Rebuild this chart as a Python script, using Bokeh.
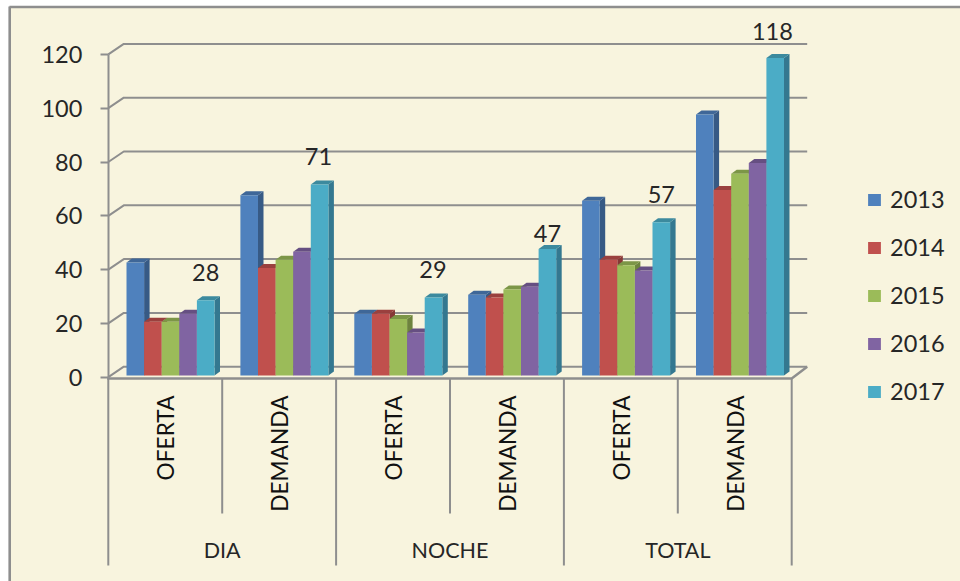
import math
from bokeh.plotting import figure
from bokeh.models import Range1d, LinearAxis, FixedTicker, Legend, LegendItem
from bokeh.core.properties import value
from bokeh.embed import file_html
from bokeh.resources import INLINE

years = ["2013", "2014", "2015", "2016", "2017"]
groups = ["DIA", "NOCHE", "TOTAL"]
subgroups = ["OFERTA", "DEMANDA", "OFERTA", "DEMANDA", "OFERTA", "DEMANDA"]
v2013 = [42, 67, 23, 30, 65, 97]
v2014 = [20, 40, 23, 29, 43, 69]
v2015 = [20, 43, 21, 32, 41, 75]
v2016 = [23, 46, 16, 33, 39, 79]
v2017 = [28, 71, 29, 47, 57, 118]
series = [v2013, v2014, v2015, v2016, v2017]
y_ticks = [0, 20, 40, 60, 80, 100, 120]

front = ["#4F81BD", "#C0504D", "#9BBB59", "#8064A2", "#4BACC6"]
side = ["#375A85", "#873836", "#6D833E", "#5A4671", "#347890"]
topc = ["#3F6798", "#9A403E", "#7C9647", "#664F82", "#3C8A9E"]
BG = "#F8F4DE"
GRID = "#8E8E8E"
INK = "#262626"
FONT = "Lato"

# layout: scale of the drawing, in pixels of the picture
W, H = 960, 581
LEFT, TOP = 0, 0
X0, Y0 = 107.8, 376.7
PX_CAT, PX_UNIT = 113.9, 2.69
WALL_DX, WALL_DY = 15.5 / PX_CAT, 10.5 / PX_UNIT
BAR_DX, BAR_DY = 5.5 / PX_CAT, 4.0 / PX_UNIT
BAR_W = 17.6 / PX_CAT
BASE = 1.7 / PX_UNIT


def dx(px):
    return (px - X0) / PX_CAT


def dy(px):
    return (Y0 - px) / PX_UNIT


p = figure(
    width=W, height=H, output_backend="svg", toolbar_location=None,
    x_range=Range1d(dx(LEFT), dx(LEFT + W)),
    y_range=Range1d(dy(TOP + H), dy(TOP)),
    x_axis_location=None, y_axis_location=None,
    min_border=0,
    background_fill_color="#FFFFFF", border_fill_color="#FFFFFF", outline_line_color=None,
)
p.grid.visible = False

# panel of the picture and its frame
p.quad(left=[dx(9)], right=[dx(960)], bottom=[dy(581)], top=[dy(6)], fill_color=BG, line_color=None)
p.multi_line(
    xs=[[dx(9.2), dx(9.2)], [dx(9), dx(960)]],
    ys=[[dy(6), dy(581)], [dy(6.5), dy(6.5)]],
    line_color=GRID, line_width=2.6,
)

# back wall grid with diagonal on the side wall
n = len(subgroups)
grid_end = n + WALL_DX
p.multi_line(
    xs=[[0, WALL_DX, grid_end] for _ in y_ticks],
    ys=[[t, t + WALL_DY, t + WALL_DY] for t in y_ticks],
    line_color=GRID, line_width=2,
)
# floor
p.multi_line(xs=[[-0.01, n, grid_end]], ys=[[-0.5, -0.5, WALL_DY]], line_color=GRID, line_width=2.4)

# category separators
outer = [0, 2, 4, 6]
inner = [1, 3, 5]
p.multi_line(xs=[[k, k] for k in outer], ys=[[-0.5, dy(565)] for _ in outer], line_color=GRID, line_width=2)
p.multi_line(xs=[[k, k] for k in inner], ys=[[-0.5, dy(513)] for _ in inner], line_color=GRID, line_width=2)

# bars
renderers = []
for s, vals in enumerate(series):
    lefts = [c + (126 - X0) / PX_CAT + s * BAR_W for c in range(n)]
    rights = [l + BAR_W for l in lefts]
    tops = [v + BASE for v in vals]
    bots = [BASE] * n
    p.patches(
        xs=[[r, r + BAR_DX, r + BAR_DX, r] for r in rights],
        ys=[[BASE, BASE + BAR_DY, t + BAR_DY, t] for t in tops],
        fill_color=side[s], line_color=None,
    )
    p.patches(
        xs=[[l, l + BAR_DX, r + BAR_DX, r] for l, r in zip(lefts, rights)],
        ys=[[t, t + BAR_DY, t + BAR_DY, t] for t in tops],
        fill_color=topc[s], line_color=None,
    )
    renderers.append(p.quad(left=lefts, right=rights, bottom=bots, top=tops, fill_color=front[s], line_color=None))

# value labels over the 2017 bars
label_lift = [10.4, 10.4, 10.4, 5.9, 10.4, 10.0]
label_x = [0.0, -0.01, -0.005, 0.0, 0.0, -0.025]
last_left = (126 - X0) / PX_CAT + 4.5 * BAR_W
p.text(
    x=[c + last_left + o for c, o in zip(range(n), label_x)],
    y=[v + BASE + l for v, l in zip(v2017, label_lift)],
    text=[str(v) for v in v2017],
    text_font=value(FONT), text_font_size="23.5px", text_color=INK,
    text_align="center", text_baseline="middle",
)

# category texts
p.text(
    x=[c + 0.5 + 0.006 for c in range(n)], y=[dy(395)] * n, text=subgroups, angle=math.pi / 2,
    text_font=value(FONT), text_font_size="22.7px", text_color="#111111",
    text_align="right", text_baseline="middle",
)
p.text(
    x=[g * 2 + 1 for g in range(len(groups))], y=[dy(549)] * len(groups), text=groups,
    text_font=value(FONT), text_font_size="21.5px", text_color=INK,
    text_align="center", text_baseline="middle",
)

# value axis
axis = LinearAxis(
    fixed_location=0, bounds=(0, 120),
    ticker=FixedTicker(ticks=y_ticks),
    axis_line_color=GRID, axis_line_width=2,
    major_tick_line_color=GRID, major_tick_line_width=2,
    major_tick_out=8, major_tick_in=0,
    minor_tick_line_color=None,
    major_label_standoff=18,
    major_label_text_font=FONT, major_label_text_font_size="23.5px",
    major_label_text_color=INK,
)
p.add_layout(axis, "left")

legend = Legend(
    items=[LegendItem(label=y, renderers=[r]) for y, r in zip(years, renderers)],
    location=(866, 176), orientation="vertical",
    background_fill_alpha=0, border_line_color=None,
    glyph_width=16, glyph_height=15, label_standoff=8, spacing=20, padding=0, margin=0,
    label_text_font=FONT, label_text_font_size="23.5px", label_text_color=INK,
)
p.add_layout(legend, "center")

open("out.html", "w").write(file_html(p, INLINE))
